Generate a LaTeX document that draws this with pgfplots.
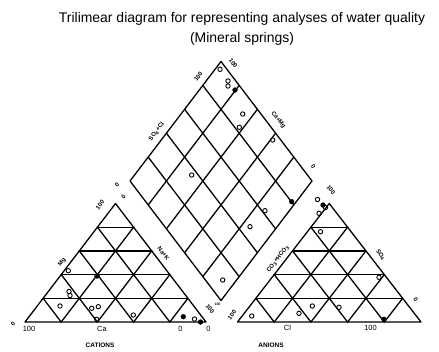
\documentclass[border=0pt]{standalone}
\usepackage{pgfplots}
\pgfplotsset{compat=1.18}
\usepackage{fontspec}
\setmainfont{Liberation Sans}
\tikzset{
  gl/.style={black,line width=1.3pt,no marks,line join=round,line cap=round},
  op/.style={only marks,mark=o,mark size=2.2pt,mark options={line width=0.9pt,black}},
  fp/.style={only marks,mark=*,mark size=2.4pt,mark options={black,fill=black}},
  lab/.style={font=\fontsize{7.5}{8}\selectfont},
  rlab/.style={font=\fontsize{6}{7}\selectfont\bfseries}}
\begin{document}
\begin{tikzpicture}
\begin{axis}[x=1bp,y=1bp,xmin=0,xmax=439,ymin=0,ymax=351,y dir=reverse,
  hide axis,clip=false,unbounded coords=jump]
% ---- left triangle (cations)
\addplot[gl] coordinates {(25,322)(206,322)(115.5,203.5)(25,322)};
\addplot[gl] coordinates {(43.1,298.3)(187.9,298.3)(nan,nan)(61.2,274.6)(169.8,274.6)(nan,nan)(79.3,250.9)(151.7,250.9)(nan,nan)(97.4,227.2)(133.6,227.2)};
\addplot[gl] coordinates {(61.2,322)(43.1,298.3)(nan,nan)(97.4,322)(61.2,274.6)(nan,nan)(133.6,322)(79.3,250.9)(nan,nan)(169.8,322)(97.4,227.2)};
\addplot[gl] coordinates {(61.2,322)(133.6,227.2)(nan,nan)(97.4,322)(151.7,250.9)(nan,nan)(133.6,322)(169.8,274.6)(nan,nan)(169.8,322)(187.9,298.3)};
% ---- right triangle (anions)
\addplot[gl] coordinates {(237.5,322)(421,322)(329.25,203.5)(237.5,322)};
\addplot[gl] coordinates {(255.85,298.3)(402.65,298.3)(nan,nan)(274.2,274.6)(384.3,274.6)(nan,nan)(292.55,250.9)(365.95,250.9)(nan,nan)(310.9,227.2)(347.6,227.2)};
\addplot[gl] coordinates {(274.2,322)(255.85,298.3)(nan,nan)(310.9,322)(274.2,274.6)(nan,nan)(347.6,322)(292.55,250.9)(nan,nan)(384.3,322)(310.9,227.2)};
\addplot[gl] coordinates {(274.2,322)(347.6,227.2)(nan,nan)(310.9,322)(365.95,250.9)(nan,nan)(347.6,322)(384.3,274.6)(nan,nan)(384.3,322)(402.65,298.3)};
% ---- diamond
\addplot[gl] coordinates {(130,181)(221,61.5)(312,181)(221,300.5)(130,181)};
\addplot[gl] coordinates {(148.2,204.9)(239.2,85.4)(nan,nan)(166.4,228.8)(257.4,109.3)(nan,nan)(184.6,252.7)(275.6,133.2)(nan,nan)(202.8,276.6)(293.8,157.1)};
\addplot[gl] coordinates {(148.2,157.1)(239.2,276.6)(nan,nan)(166.4,133.2)(257.4,252.7)(nan,nan)(184.6,109.3)(275.6,228.8)(nan,nan)(202.8,85.4)(293.8,204.9)};
% ---- samples
\addplot[op] coordinates {(68.3,270.7)(69,291.5)(70,295.5)(60,306)(91.7,308.3)(98.3,306.7)(96.7,319.3)(133.3,315)(194.5,319)};
\addplot[fp] coordinates {(97,276)(183.3,316.7)(200.5,322)};
\addplot[op] coordinates {(317.5,199.5)(325.5,207.5)(319,213.3)(320.5,231.7)(379,277.3)(312.3,306)(339,307.3)(299,313.3)(251.7,316)};
\addplot[fp] coordinates {(323,205)(384,319.3)};
\addplot[op] coordinates {(220,69.3)(228,81)(228,86)(242.7,114)(239.3,127.3)(272.7,140)(191.7,175)(265,210.7)(250,226.7)(222.7,280)};
\addplot[fp] coordinates {(235,90)(291.7,201.7)};
% ---- title
\node[anchor=base,font=\fontsize{14}{16}\selectfont] at (axis cs:242,22.5) {Trilimear diagram for representing analyses of water quality};
\node[anchor=base,font=\fontsize{14}{16}\selectfont] at (axis cs:242,42.5) {(Mineral springs)};
% ---- left triangle labels
\node[lab] at (axis cs:29,329) {100};
\node[lab] at (axis cs:102,328.5) {Ca};
\node[lab] at (axis cs:180.5,328.5) {0};
\node[lab] at (axis cs:208.5,328.5) {0};
\node[rlab,rotate=52.6] at (axis cs:13,323.5) {0};
\node[rlab,rotate=52.6] at (axis cs:100,205) {100};
\node[rlab,rotate=52.6] at (axis cs:62,262) {Mg};
\node[rlab,rotate=-52.6] at (axis cs:163.5,253.5) {Na+K};
\node[rlab,rotate=-52.6] at (axis cs:210,309) {100};
\node[font=\fontsize{3.5}{4}\selectfont\bfseries] at (axis cs:217.5,304.5) {100};
\node[rlab,rotate=52.6] at (axis cs:117,185) {0};
\node[rlab,rotate=52.6] at (axis cs:123.5,197) {0};
\node[font=\fontsize{6.5}{7}\selectfont\bfseries] at (axis cs:100,345) {CATIONS};
% ---- right triangle labels
\node[rlab,rotate=52.6] at (axis cs:232,315) {100};
\node[lab] at (axis cs:287.5,328) {Cl};
\node[lab] at (axis cs:370.5,327.5) {100};
\node[rlab,rotate=52.6] at (axis cs:278,259) {CO\textsubscript{3}+HCO\textsubscript{3}};
\node[rlab,rotate=-52.6] at (axis cs:380.5,255) {SO\textsubscript{4}};
\node[rlab,rotate=-52.6] at (axis cs:331,190) {100};
\node[rlab,rotate=-52.6] at (axis cs:415.7,299.3) {0};
\node[font=\fontsize{6.5}{7}\selectfont\bfseries] at (axis cs:271,345) {ANIONS};
% ---- diamond labels
\node[rlab,rotate=52.6] at (axis cs:198.3,76.7) {100};
\node[rlab,rotate=-52.6] at (axis cs:233.3,63.3) {100};
\node[rlab,rotate=52.6] at (axis cs:156.7,131.7) {SO\textsubscript{4}+Cl};
\node[rlab,rotate=-52.6] at (axis cs:278.3,120) {Ca+Mg};
\node[rlab,rotate=-52.6] at (axis cs:313.3,166.7) {0};
\end{axis}
\pgfresetboundingbox
\path (current axis.south west) rectangle (current axis.north east);
\end{tikzpicture}
\end{document}
